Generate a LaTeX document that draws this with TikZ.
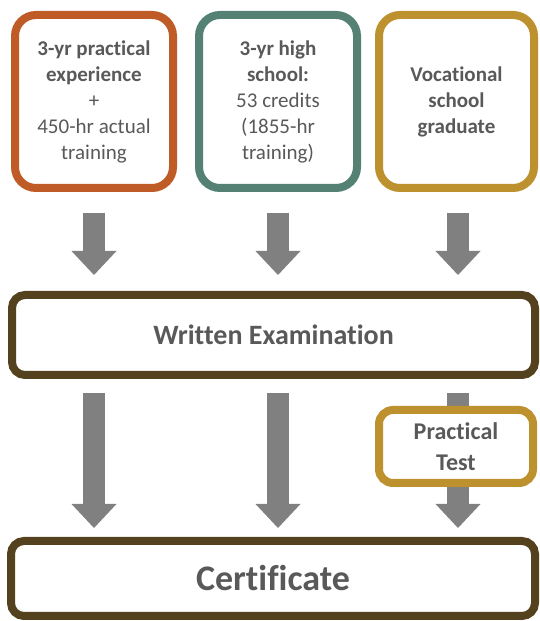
\documentclass[tikz,border=0pt]{standalone}
\usepackage{fontspec}
\setmainfont{Carlito}[Ligatures=NoCommon]
\usetikzlibrary{positioning,calc,arrows.meta}

\definecolor{rust}{HTML}{BF5B26}
\definecolor{sea}{HTML}{548174}
\definecolor{ochre}{HTML}{BE912F}
\definecolor{umber}{HTML}{54411E}
\definecolor{txtgray}{HTML}{595959}
\definecolor{arrgray}{HTML}{808080}

\begin{document}
\begin{tikzpicture}[x=1pt,y=1pt,
	route/.style={draw, line width=8pt, fill=white, rounded corners=21pt, minimum width=158pt, minimum height=173pt, inner sep=0pt, text=txtgray, align=center, font=\fontsize{21}{26}\selectfont},
	stage/.style={draw=umber, line width=8pt, fill=white, rounded corners=13pt, minimum width=523pt, inner sep=0pt, text=txtgray, font=\bfseries},
	down/.style={draw=arrgray, line width=22pt, -{Triangle[length=24pt,width=45pt,line width=0pt]}}]
				\useasboundingbox (0,0) rectangle (540,621);
				\node[route, draw=rust] (exp) at (94, 519.5) {\textbf{3-yr practical}\\\textbf{experience}\\+\\450-hr actual\\training};
				\node[route, draw=sea] (high) at (278, 519.5) {\textbf{3-yr high}\\\textbf{school:}\\53 credits\\(1855-hr\\training)};
				\node[route, draw=ochre, minimum width=155pt] (voc) at (456.5, 519.5) {\textbf{Vocational}\\\textbf{school}\\\textbf{graduate}};
				\node[stage, minimum height=80pt, font=\bfseries\fontsize{28}{32}\selectfont] (exam) at (273.5, 286) {Written Examination};
				\node[stage, minimum width=524pt, minimum height=75pt, font=\bfseries\fontsize{36}{40}\selectfont] (cert) at (273, 42.5) {\raisebox{-3pt}{Certificate}};
				\draw[down] ($(exp.south)+(0,-21)$) -- ($(exp.south |- exam.north)+(0,16)$);
				\draw[down] ($(high.south)+(0,-21)$) -- ($(high.south |- exam.north)+(0,16)$);
				\draw[down] ($(voc.south)+(1.5,-21)$) -- ($(voc.south |- exam.north)+(1.5,16)$);
				\draw[down] ($(exp.south |- exam.south)+(0,-14)$) -- ($(exp.south |- cert.north)+(0,9)$);
				\draw[down] ($(high.south |- exam.south)+(0,-14)$) -- ($(high.south |- cert.north)+(0,9)$);
				\draw[down] ($(voc.south |- exam.south)+(1.5,-14)$) -- ($(voc.south |- cert.north)+(1.5,9)$);
				\node[route, draw=ochre, rounded corners=14pt, minimum width=154pt, minimum height=73pt, font=\bfseries\fontsize{24}{31}\selectfont] (test) at (456, 174.5) {Practical\\Test};
\end{tikzpicture}
\end{document}
